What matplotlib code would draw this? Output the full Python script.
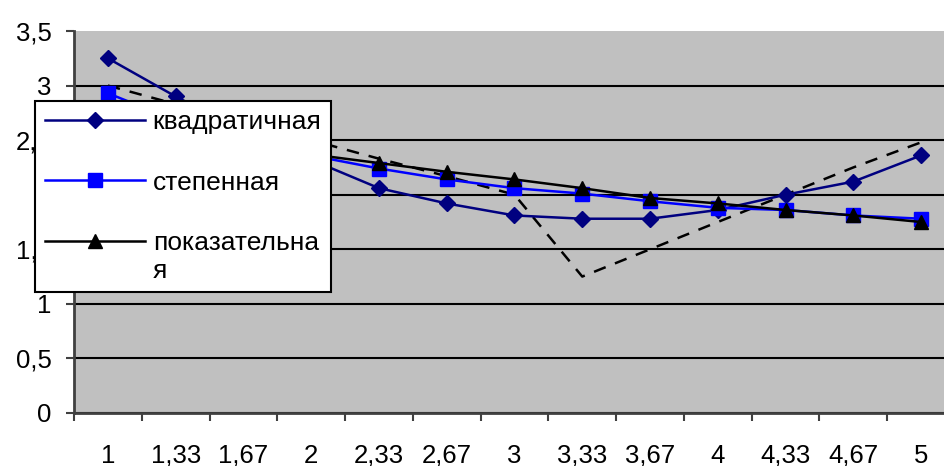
import numpy as np
import matplotlib.pyplot as plt
from matplotlib.legend_handler import HandlerLine2D

plt.rcParams['font.family'] = ['Liberation Sans', 'DejaVu Sans']

labels = ['1', '1,33', '1,67', '2', '2,33', '2,67', '3', '3,33', '3,67', '4', '4,33', '4,67', '5']
actual = [3.0, 2.83, 2.67, 2.5, 2.33, 2.17, 2.0, 1.25, 1.5, 1.75, 2.0, 2.25, 2.48]
quadratic = [3.25, 2.90, 2.58, 2.32, 2.06, 1.92, 1.81, 1.78, 1.78, 1.86, 2.0, 2.12, 2.36]
power = [2.93, 2.68, 2.50, 2.36, 2.24, 2.14, 2.06, 2.01, 1.94, 1.88, 1.86, 1.81, 1.78]
expo = [2.66, 2.56, 2.46, 2.37, 2.29, 2.21, 2.14, 2.06, 1.97, 1.92, 1.86, 1.81, 1.75]
yticks = [0, 0.5, 1, 1.5, 2, 2.5, 3, 3.5]
ytick_labels = ['0', '0,5', '1', '1,5', '2', '2,5', '3', '3,5']
names = ['квадратичная', 'степенная', 'показательна\nя']


class UpHandler(HandlerLine2D):
    # puts the handle level with the first line of a two-line label
    def __init__(self, shift, **kw):
        super().__init__(**kw)
        self.shift = shift

    def create_artists(self, legend, orig_handle, xdescent, ydescent,
                       width, height, fontsize, trans):
        arts = super().create_artists(legend, orig_handle, xdescent, ydescent,
                                      width, height, fontsize, trans)
        for a in arts:
            a.set_ydata(np.asarray(a.get_ydata()) + self.shift * fontsize)
        return arts


W, H = 944, 466
fig = plt.figure(figsize=(W / 100, H / 100), dpi=100)
# plot area runs a bit past the right edge like in the source picture
ax = fig.add_axes([74 / W, 1 - 413 / H, 881 / W, (413 - 31) / H])
ax.set_facecolor('#c0c0c0')

x = np.arange(len(labels))
ax.plot(x, actual, color='black', lw=1.8, ls=(0, (5, 4)), zorder=2)
l1, = ax.plot(x, quadratic, color='#000080', lw=1.8, marker='D', ms=8, zorder=3)
l2, = ax.plot(x, power, color='#0000ff', lw=1.8, marker='s', ms=10, zorder=4)
l3, = ax.plot(x, expo, color='black', lw=1.8, marker='^', ms=10, zorder=5)

ax.set_xlim(-0.5, len(labels) - 0.5)
ax.set_ylim(0, 3.5)
ax.set_yticks(yticks)
ax.set_yticklabels(ytick_labels)
ax.set_xticks(x)
ax.set_xticklabels(labels)
ax.set_xticks(np.arange(len(labels) + 1) - 0.5, minor=True)

ax.grid(axis='y', color='black', lw=1.5)
ax.get_ygridlines()[-1].set_visible(False)
ax.set_axisbelow(True)

for s in ['top', 'right']:
    ax.spines[s].set_visible(False)
for s in ['left', 'bottom']:
    ax.spines[s].set_color('#404040')
    ax.spines[s].set_linewidth(2)

ax.tick_params(axis='y', length=6, width=1.5, color='#404040', pad=10, labelsize=18.5)
ax.tick_params(axis='x', which='major', length=0, pad=22, labelsize=18.5)
ax.tick_params(axis='x', which='minor', length=6, width=1.5, color='#404040')

leg = fig.legend([l1, l2, l3], names, loc='upper left',
                 bbox_to_anchor=(35 / W, 1 - 101 / H), borderaxespad=0,
                 fancybox=False, framealpha=1, edgecolor='black',
                 fontsize=19, handlelength=3.8, handletextpad=0.3,
                 labelspacing=1.37, borderpad=0.36,
                 handler_map={l3: UpHandler(0.62)})
leg.get_frame().set_linewidth(1.5)
leg.get_texts()[2].set_linespacing(1.22)

fig.savefig('out.png', dpi=100)
